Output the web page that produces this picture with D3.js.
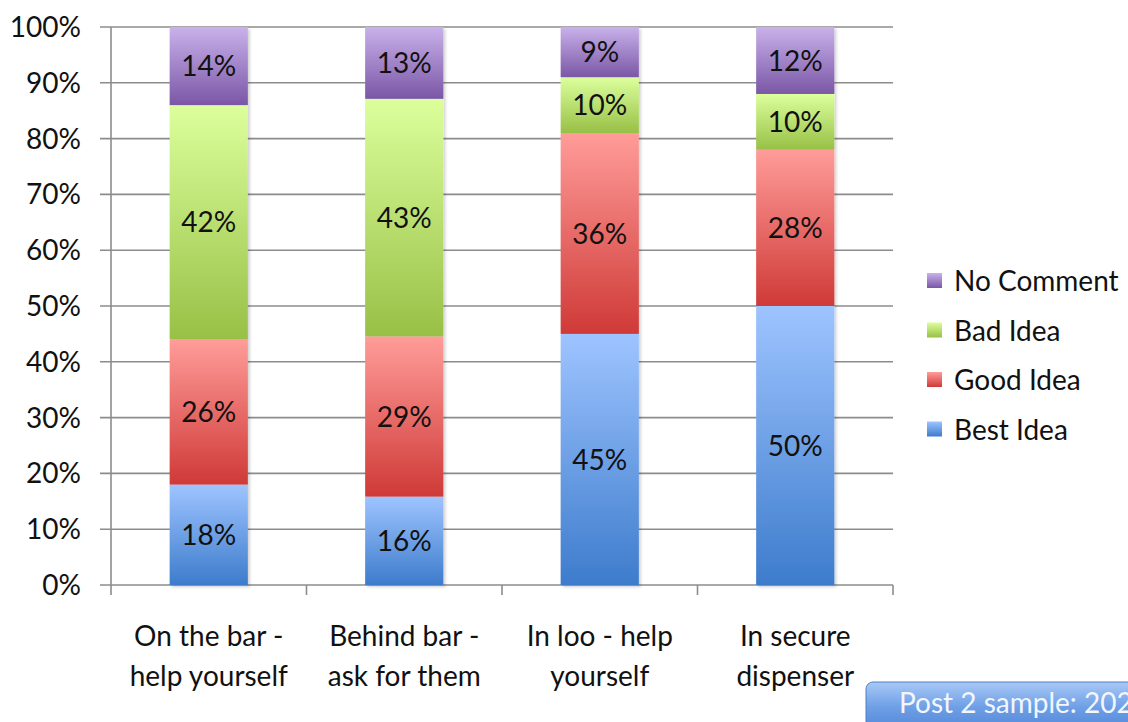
<!DOCTYPE html>
<html>
<head>
<meta charset="utf-8">
<script src="https://cdn.jsdelivr.net/npm/d3@7"></script>
<style>
  html, body { margin: 0; padding: 0; background: #fff; }
  svg { display: block; }
  text { font-family: Lato, "Open Sans", sans-serif; fill: #111; }
</style>
</head>
<body>
<svg id="chart" width="1128" height="722"></svg>
<script>
// Survey answers per placement option (percent of respondents)
const categories = [
  ["On the bar -", "help yourself"],
  ["Behind bar -", "ask for them"],
  ["In loo - help", "yourself"],
  ["In secure", "dispenser"]
];
const seriesNames = ["Best Idea", "Good Idea", "Bad Idea", "No Comment"];
const bestIdea  = [18, 16, 45, 50];
const goodIdea  = [26, 29, 36, 28];
const badIdea   = [42, 43, 10, 10];
const noComment = [14, 13, 9, 12];
const yTicks = [0, 0.1, 0.2, 0.3, 0.4, 0.5, 0.6, 0.7, 0.8, 0.9, 1];
const footnote = "Post 2 sample: 202";

const seriesValues = [bestIdea, goodIdea, badIdea, noComment];
const rows = categories.map((c, i) => {
  const r = { idx: i };
  seriesNames.forEach((s, k) => r[s] = seriesValues[k][i]);
  return r;
});

// gradient stops: light top, darker bottom
const gradients = {
  "Best Idea":  ["#9ec4ff", "#3d7ccc"],
  "Good Idea":  ["#ff9c99", "#cf3a37"],
  "Bad Idea":   ["#dcff9c", "#98c046"],
  "No Comment": ["#c9b1ea", "#7a57a6"]
};

const FS = 28;
const svg = d3.select("#chart");
const margin = { left: 111, right: 235, top: 27, bottom: 137 };
const W = 1128, H = 722;
const plotW = W - margin.left - margin.right;
const plotH = H - margin.top - margin.bottom;

const defs = svg.append("defs");
seriesNames.forEach((s, k) => {
  const g = defs.append("linearGradient")
    .attr("id", "grad" + k).attr("x1", 0).attr("y1", 0).attr("x2", 0).attr("y2", 1);
  g.append("stop").attr("offset", "0%").attr("stop-color", gradients[s][0]);
  g.append("stop").attr("offset", "100%").attr("stop-color", gradients[s][1]);
});
const sh = defs.append("filter").attr("id", "shadow")
  .attr("x", "-10%").attr("y", "-10%").attr("width", "130%").attr("height", "130%");
sh.append("feDropShadow").attr("dx", 2).attr("dy", 2).attr("stdDeviation", 1.5)
  .attr("flood-color", "#000").attr("flood-opacity", 0.18);
const bg = defs.append("linearGradient").attr("id", "btnGrad")
  .attr("x1", 0).attr("y1", 0).attr("x2", 0).attr("y2", 1);
bg.append("stop").attr("offset", "0%").attr("stop-color", "#a9c9f6");
bg.append("stop").attr("offset", "45%").attr("stop-color", "#6e9fe6");
bg.append("stop").attr("offset", "100%").attr("stop-color", "#4a80d4");

const g = svg.append("g").attr("transform", `translate(${margin.left},${margin.top})`);

const x = d3.scaleBand().domain(d3.range(categories.length)).range([0, plotW])
  .paddingInner(0.6).paddingOuter(0.3);
const y = d3.scaleLinear().domain([0, 1]).range([plotH, 0]);

// horizontal gridlines with left tick stubs
g.append("g").selectAll("line").data(yTicks).join("line")
  .attr("x1", -11).attr("x2", plotW)
  .attr("y1", d => y(d)).attr("y2", d => y(d))
  .attr("stroke", "#8c8c8c").attr("stroke-width", 1.6);

// y axis labels
g.append("g").selectAll("text").data(yTicks).join("text")
  .attr("x", -30).attr("y", d => y(d)).attr("dy", "0.36em")
  .attr("text-anchor", "end").attr("font-size", FS)
  .text(d => d3.format(".0%")(d));

// y axis line
g.append("line").attr("x1", 0).attr("x2", 0).attr("y1", 0).attr("y2", plotH + 10)
  .attr("stroke", "#8c8c8c").attr("stroke-width", 1.6);

// category boundary ticks
const step = plotW / categories.length;
g.append("g").selectAll("line").data(d3.range(1, categories.length + 1)).join("line")
  .attr("x1", d => d * step).attr("x2", d => d * step)
  .attr("y1", plotH).attr("y2", plotH + 10)
  .attr("stroke", "#8c8c8c").attr("stroke-width", 1.6);

// 100% stacked series
const stack = d3.stack().keys(seriesNames).offset(d3.stackOffsetExpand);
const stacked = stack(rows);

const layers = g.append("g").attr("filter", "url(#shadow)").selectAll("g").data(stacked).join("g")
  .attr("fill", (d, k) => `url(#grad${k})`);
layers.selectAll("rect").data(d => d).join("rect")
  .attr("x", d => x(d.data.idx))
  .attr("width", x.bandwidth())
  .attr("y", d => y(d[1]))
  .attr("height", d => y(d[0]) - y(d[1]));

// value labels
const labels = g.append("g");
stacked.forEach(layer => {
  layer.forEach(d => {
    labels.append("text")
      .attr("x", x(d.data.idx) + x.bandwidth() / 2)
      .attr("y", (y(d[0]) + y(d[1])) / 2)
      .attr("dy", "0.36em")
      .attr("text-anchor", "middle").attr("font-size", FS)
      .text(d.data[layer.key] + "%");
  });
});

// category labels (two lines)
const cat = g.append("g").selectAll("text").data(categories).join("text")
  .attr("text-anchor", "middle").attr("font-size", FS)
  .attr("transform", (d, i) => `translate(${x(i) + x.bandwidth() / 2},${plotH + 61})`);
cat.selectAll("tspan").data(d => d).join("tspan")
  .attr("x", 0).attr("dy", (d, j) => j === 0 ? 0 : 40).text(d => d);

// legend (top series first)
const legend = svg.append("g").attr("transform", "translate(927,281)");
const legItems = seriesNames.slice().reverse();
const li = legend.selectAll("g").data(legItems).join("g")
  .attr("transform", (d, i) => `translate(0,${i * 49.5})`);
li.append("rect").attr("x", 0).attr("y", -8).attr("width", 15).attr("height", 15)
  .attr("fill", d => `url(#grad${seriesNames.indexOf(d)})`);
li.append("text").attr("x", 27).attr("y", 0).attr("dy", "0.36em")
  .attr("font-size", FS).text(d => d);

// footnote badge
const badge = svg.append("g");
badge.append("rect").attr("x", 866).attr("y", 682).attr("width", 300).attr("height", 56)
  .attr("rx", 7).attr("fill", "url(#btnGrad)").attr("stroke", "#4f7fc9").attr("stroke-width", 1);
badge.append("text").attr("x", 899).attr("y", 703).attr("dy", "0.36em")
  .attr("font-size", FS).style("fill", "#f2f6ff").text(footnote);
</script>
</body>
</html>
